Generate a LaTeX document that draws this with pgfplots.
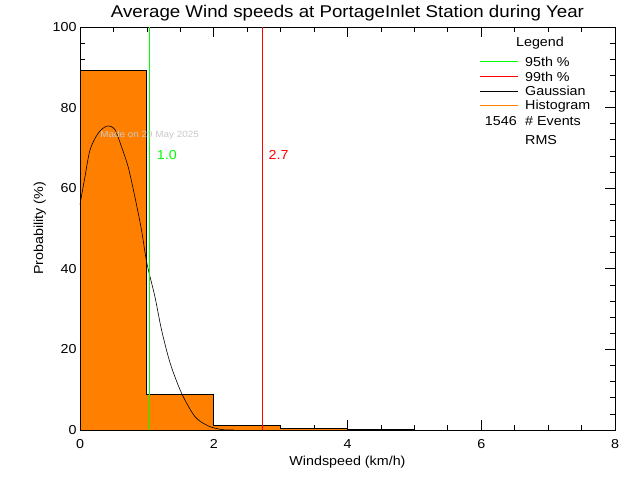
\documentclass[border=0pt]{standalone}
\usepackage{pgfplots}
\pgfplotsset{compat=1.18}
\usepackage{fontspec}
\setmainfont{Liberation Sans}[FakeStretch=1.1]
\definecolor{historange}{RGB}{255,128,0}
\definecolor{idlgreen}{RGB}{0,255,0}
\definecolor{idlred}{RGB}{255,0,0}
\definecolor{madegray}{RGB}{200,200,200}

\begin{document}
\begin{tikzpicture}[x=1pt,y=1pt]
\path[use as bounding box] (0,0) rectangle (640,480);
\begin{axis}[
    at={(80pt,50pt)}, anchor=south west,
    scale only axis, width=535pt, height=403pt,
    xmin=0, xmax=8, ymin=0, ymax=100,
    xtick={0,2,...,8}, minor x tick num=3,
    ytick={0,20,...,100}, minor y tick num=4,
    tick align=inside,
    major tick length=10pt, minor tick length=5pt,
    every tick/.style={black, line width=0.7pt},
    axis line style={line width=0.8pt},
    /pgf/number format/assume math mode=true,
    tick label style={font=\fontsize{13}{14}\selectfont},
    xticklabel shift=6pt,
    xlabel={Windspeed (km/h)},
    ylabel={Probability (\%)},
    label style={font=\fontsize{13}{14}\selectfont},
    title={Average Wind speeds at PortageInlet Station during Year},
    title style={font=\fontsize{17}{18}\selectfont, yshift=-4pt},
    clip=false,
]
% histogram
\addplot[const plot, fill=historange, draw=black, line width=0.8pt] coordinates {
(0,89.3)(1,8.9)(2,1.2)(3,0.35)(4,0.12)(5,0)
} \closedcycle;
% gaussian fit
\addplot[black, line width=0.6pt, smooth] coordinates {
(0,56)(0.075,62.9)(0.15,69.5)(0.27,73.6)(0.40,75.4)(0.52,74.6)(0.62,70.3)
(0.72,65.3)(0.82,57.9)(0.92,49.6)(1.0,41.4)(1.12,33.1)(1.22,24.8)(1.35,16.5)
(1.52,9.1)(1.72,3.3)(1.92,1.0)(2.12,0.1)(2.3,0)
};
% 95th and 99th percentiles
\addplot[idlgreen, line width=0.7pt] coordinates {(1.03,0)(1.03,100)};
\addplot[idlred, line width=0.7pt] coordinates {(2.72,0)(2.72,100)};
\node[idlgreen, font=\fontsize{13}{14}\selectfont] at (axis cs:1.30,68.2) {1.0};
\node[idlred, font=\fontsize{13}{14}\selectfont] at (axis cs:2.97,68.2) {2.7};
\node[madegray, font=\fontsize{9}{10}\selectfont] at (axis cs:1.04,73.1) {Made on 29 May 2025};
\end{axis}
% legend
\begin{scope}[font=\fontsize{13}{14}\selectfont]
\node at (540,437) {Legend};
\draw[idlgreen, line width=0.7pt] (480,418.3) -- (518,418.3);
\node[anchor=west, inner sep=0pt] at (525,418.3) {95th \%};
\draw[idlred, line width=0.7pt] (480,403.3) -- (518,403.3);
\node[anchor=west, inner sep=0pt] at (525,403.3) {99th \%};
\draw[black, line width=0.7pt] (480,389) -- (518,389);
\node[anchor=west, inner sep=0pt] at (525,389) {Gaussian};
\draw[historange, line width=0.7pt] (480,374.3) -- (518,374.3);
\node[anchor=west, inner sep=0pt] at (525,374.3) {Histogram};
\node[anchor=east, inner sep=0pt] at (517,359.3) {1546};
\node[anchor=west, inner sep=0pt] at (525,359.3) {\# Events};
\node[anchor=west, inner sep=0pt] at (525,340) {RMS};
\end{scope}
\end{tikzpicture}
\end{document}
